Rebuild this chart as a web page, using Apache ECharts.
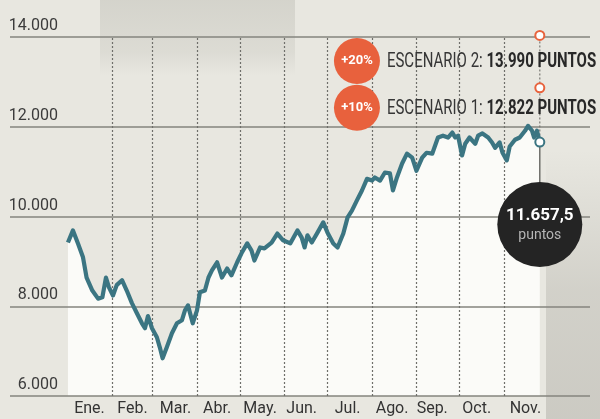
<!DOCTYPE html>
<html>
<head>
<meta charset="utf-8">
<script src="https://cdn.jsdelivr.net/npm/echarts@6/dist/echarts.min.js"></script>
<style>
  html, body { margin: 0; padding: 0; background: #e8e7e0; }
  #chart { width: 600px; height: 419px; }
</style>
</head>
<body>
<div id="chart"></div>
<script>
// día del año y cierre del índice
const dias = [0, 3.5, 7, 10.5, 13, 17, 21, 24, 26.5, 28.6, 31.4, 34, 37.7, 41, 44.6, 48, 51.6, 53.7, 55.8, 58.6,
  62, 64, 66, 69, 72.5, 76, 79.5, 81.6, 83.7, 87, 90, 92, 95.5, 98, 100.4, 104, 107.4, 111, 114, 118,
  121, 125, 128, 130, 134, 137, 142, 146, 150, 155, 160, 163, 165, 167, 170, 174, 178, 181, 185, 188,
  192, 195, 198, 201.5, 205, 208.5, 212, 214, 217.6, 221, 224.5, 226.6, 229.4, 233, 236.4, 240, 243, 247, 250, 254,
  258, 261.5, 265, 268, 270, 272, 274.8, 277, 280, 284, 286, 289, 293, 295.7, 297.8, 301, 303, 306, 308, 311.7,
  315, 318.7, 320.8, 323.6, 325, 327, 329]
const valores = [9420, 9690, 9400, 9090, 8640, 8350, 8170, 8200, 8640, 8420, 8240, 8470, 8580, 8350, 8070, 7850, 7620, 7510, 7780, 7510,
  7310, 7090, 6840, 7090, 7400, 7620, 7690, 7910, 8020, 7620, 7910, 8310, 8350, 8640, 8800, 8980, 8640, 8840, 8690, 8980,
  9180, 9400, 9240, 9020, 9310, 9290, 9420, 9620, 9470, 9400, 9690, 9530, 9310, 9580, 9420, 9640, 9870, 9640, 9400, 9310,
  9620, 9980, 10130, 10360, 10580, 10840, 10800, 10870, 10800, 10980, 10960, 10580, 10870, 11180, 11400, 11310, 11020, 11310, 11420, 11400,
  11760, 11800, 11760, 11870, 11760, 11800, 11360, 11620, 11760, 11620, 11800, 11850, 11760, 11650, 11530, 11650, 11420, 11250, 11560, 11710,
  11760, 11910, 12020, 11910, 11760, 11910, 11657.5]

const inicioMes = [31, 59, 90, 120, 151, 181, 212, 243, 273, 304]
const meses = ['Ene.', 'Feb.', 'Mar.', 'Abr.', 'May.', 'Jun.', 'Jul.', 'Ago.', 'Sep.', 'Oct.', 'Nov.']
const diaEtiqueta = [15, 45, 75, 104, 134, 163, 195, 226, 254, 285, 319]
const ticksY = [6000, 8000, 10000, 12000, 14000]

const cierre = [329, 11657.5]
const escenarioNombre = ['ESCENARIO 2', 'ESCENARIO 1']
const escenarioValor = [13990, 12822]
const escenarioTexto = ['13.990 PUNTOS', '12.822 PUNTOS']
const escenarioPct = ['+20%', '+10%']

const fuente = "Roboto, 'Open Sans', sans-serif"
const serie = dias.map((d, i) => [d, valores[i]])
// ubicación de los globos naranjas (en coordenadas del gráfico)
const globos = [[201.5, 13465], [201.5, 12423]]

const chart = echarts.init(document.getElementById('chart'))

const option = {
  backgroundColor: '#e8e7e0',
  animation: false,
  graphic: [
    // manchas del papel escaneado
    {
      id: 'mancha1', type: 'rect', z: -10, silent: true,
      shape: { x: 100, y: 0, width: 195, height: 75 },
      style: {
        fill: new echarts.graphic.LinearGradient(0, 0, 0, 1, [
          { offset: 0, color: 'rgba(150,150,140,0.24)' },
          { offset: 0.7, color: 'rgba(150,150,140,0.14)' },
          { offset: 1, color: 'rgba(150,150,140,0)' }
        ])
      }
    },
    {
      id: 'mancha2', type: 'rect', z: -10, silent: true,
      shape: { x: 546, y: 150, width: 60, height: 280 },
      style: {
        fill: new echarts.graphic.LinearGradient(0, 0, 0, 1, [
          { offset: 0, color: 'rgba(160,158,150,0)' },
          { offset: 0.5, color: 'rgba(160,158,150,0.3)' },
          { offset: 1, color: 'rgba(160,158,150,0.4)' }
        ])
      }
    }
  ],
  grid: { left: 10, right: 10, top: 37, bottom: 23 },
  xAxis: {
    type: 'value',
    min: -40.4,
    max: 364,
    z: 3,
    axisLine: { show: false },
    axisTick: { show: false },
    splitLine: { show: false },
    axisLabel: {
      customValues: diaEtiqueta,
      formatter: v => meses[diaEtiqueta.indexOf(v)],
      color: '#333',
      fontFamily: fuente,
      fontSize: 16,
      margin: 5
    }
  },
  yAxis: {
    type: 'value',
    min: 6000,
    max: 14000,
    interval: 2000,
    z: 3,
    axisLine: { show: false },
    axisTick: { show: false },
    splitLine: { lineStyle: { color: '#85847e', width: 1.5 } },
    axisLabel: {
      inside: true,
      margin: 48,
      align: 'right',
      verticalAlign: 'bottom',
      padding: [0, 0, 3, 0],
      color: '#3b3b3b',
      fontFamily: fuente,
      fontSize: 16,
      formatter: v => ticksY.includes(v) ? v.toLocaleString('de-DE') : ''
    }
  },
  series: [
    {
      // relleno blanco bajo la curva
      type: 'line',
      data: serie,
      z: 1,
      silent: true,
      symbol: 'none',
      lineStyle: { width: 0 },
      areaStyle: { color: '#fbfbf8', opacity: 1, origin: 'start' }
    },
    {
      // separadores de mes
      type: 'line',
      data: [],
      z: 4,
      silent: true,
      markLine: {
        silent: true,
        symbol: ['none', 'none'],
        label: { show: false },
        lineStyle: { color: '#6f6f6a', type: [2, 2], width: 1.2 },
        data: inicioMes.map(d => ({ xAxis: d }))
      }
    },
    {
      // guía punteada de los escenarios
      type: 'line',
      data: [[cierre[0], escenarioValor[0]], cierre],
      z: 4,
      silent: true,
      symbol: 'none',
      lineStyle: { color: '#7a7a74', type: [2, 2], width: 1.2 }
    },
    {
      // guía al globo del cierre
      type: 'line',
      data: [cierre, [cierre[0], 9820]],
      z: 4,
      silent: true,
      symbol: 'none',
      lineStyle: { color: '#5c5c58', width: 1.3 }
    },
    {
      type: 'line',
      data: serie,
      z: 5,
      symbol: 'none',
      lineStyle: { color: '#3b7582', width: 4.2, join: 'round' }
    },
    {
      // marcadores de escenario
      type: 'scatter',
      data: escenarioValor.map(v => [cierre[0], v]),
      z: 6,
      symbol: 'emptyCircle',
      symbolSize: 9,
      symbolOffset: [0, -2],
      itemStyle: { color: '#e8633d', borderWidth: 2.2, opacity: 1 }
    },
    {
      type: 'scatter',
      data: [cierre],
      z: 7,
      symbol: 'emptyCircle',
      symbolSize: 9,
      itemStyle: { color: '#3b7582', borderWidth: 2, opacity: 1 }
    },
    {
      // globo con el último cierre
      type: 'scatter',
      data: [[cierre[0], 9820]],
      z: 7,
      symbolSize: 85,
      itemStyle: { color: '#242424', opacity: 1 },
      label: {
        show: true,
        position: 'inside',
        formatter: () => '{a|' + cierre[1].toLocaleString('de-DE', { minimumFractionDigits: 1 }) + '}\n{b|puntos}',
        rich: {
          a: { color: '#ffffff', fontFamily: fuente, fontWeight: 'bold', fontSize: 17, lineHeight: 21 },
          b: { color: '#b5b5b5', fontFamily: fuente, fontSize: 14, lineHeight: 18 }
        }
      }
    },
    {
      // círculos naranjas de porcentaje
      type: 'scatter',
      data: globos,
      z: 7,
      symbolSize: 46,
      itemStyle: { color: '#e8613d', opacity: 1 },
      label: {
        show: true,
        position: 'inside',
        formatter: p => escenarioPct[p.dataIndex],
        color: '#ffffff',
        fontFamily: fuente,
        fontWeight: 'bold',
        fontSize: 13
      }
    }
  ]
}

chart.setOption(option)

// textos de escenario, algo condensados como en el original
const textos = globos.map((g, i) => {
  const [px, py] = chart.convertToPixel({ gridIndex: 0 }, g)
  return {
    id: 'esc' + i,
    type: 'text',
    z: 8,
    silent: true,
    x: px + 30,
    y: py + 1,
    scaleX: 0.75,
    style: {
      text: '{a|' + escenarioNombre[i] + ': }{b|' + escenarioTexto[i] + '}',
      verticalAlign: 'middle',
      rich: {
        a: { fill: '#363636', fontFamily: fuente, fontSize: 20 },
        b: { fill: '#282828', fontFamily: fuente, fontWeight: 'bold', fontSize: 20 }
      }
    }
  }
})
chart.setOption({ graphic: textos })
</script>
</body>
</html>
